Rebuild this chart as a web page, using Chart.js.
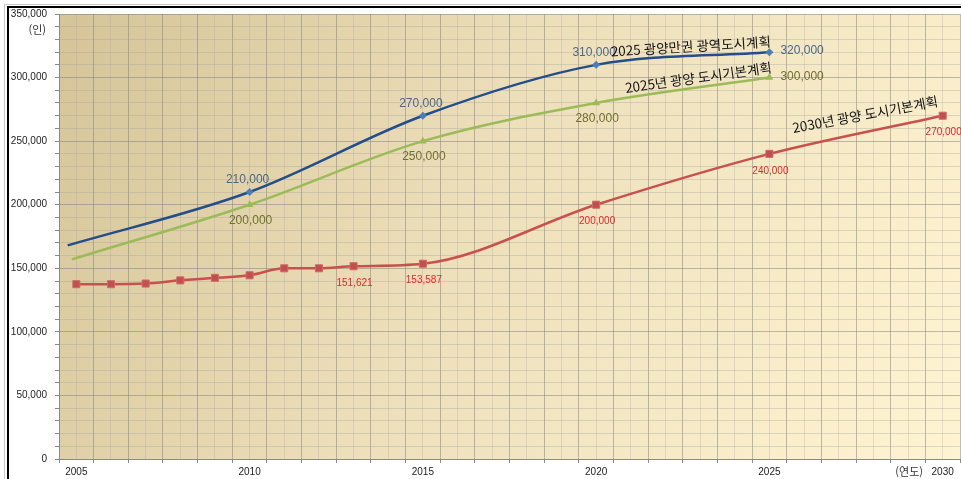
<!DOCTYPE html>
<html lang="ko">
<head>
<meta charset="utf-8">
<title>광양 인구 계획</title>
<script src="https://cdn.jsdelivr.net/npm/chart.js@4.4.1/dist/chart.umd.min.js"></script>
<style>
  html, body { margin: 0; padding: 0; background: #fff; }
  #wrap { width: 961px; height: 479px; }
</style>
</head>
<body>
<div id="wrap"><canvas id="popChart" width="961" height="479"></canvas></div>
<script>
// 축 눈금 라벨
const tickYears = [2005, 2010, 2015, 2020, 2025, 2030];

// 2025 광양만권 광역도시계획
const wideYears = [2004.75, 2010, 2015, 2020, 2025];
const wideValues = [168000, 210000, 270000, 310000, 320000];
const wideLabels = ['', '210,000', '270,000', '310,000', '320,000'];

// 2025년 광양 도시기본계획
const basic2025Years = [2004.87, 2010, 2015, 2020, 2025];
const basic2025Values = [157000, 200000, 250000, 280000, 300000];
const basic2025Labels = ['', '200,000', '250,000', '280,000', '300,000'];

// 2030년 광양 도시기본계획
const basic2030Years = [2005, 2006, 2007, 2008, 2009, 2010, 2011, 2012, 2013, 2015, 2020, 2025, 2030];
const basic2030Values = [137500, 137500, 138000, 140500, 142500, 144500, 150000, 150000, 151621, 153587, 200000, 240000, 270000];
const basic2030Labels = ['', '', '', '', '', '', '', '', '151,621', '153,587', '200,000', '240,000', '270,000'];

const seriesNames = ['2025 광양만권 광역도시계획', '2025년 광양 도시기본계획', '2030년 광양 도시기본계획'];

function toPoints(xs, ys) {
    return xs.map((x, i) => ({ x: x, y: ys[i] }));
}

// 배경, 테두리
const backgroundPlugin = {
    id: 'background',
    beforeDraw(chart) {
        const ctx = chart.ctx;
        const a = chart.chartArea;
        ctx.save();
        ctx.fillStyle = '#ffffff';
        ctx.fillRect(0, 0, chart.width, chart.height);
        ctx.fillStyle = '#c8c8c8';
        ctx.fillRect(4, 4, chart.width, 1);
        ctx.fillRect(4, 4, 1, chart.height);
        ctx.fillStyle = '#000000';
        ctx.fillRect(7, 6, chart.width, 2);
        ctx.fillRect(7, 6, 2, chart.height);
        const g = ctx.createLinearGradient(a.left, a.top, a.right, a.bottom);
        g.addColorStop(0, '#d5c498');
        g.addColorStop(0.45, '#eddfba');
        g.addColorStop(1, '#fff4d2');
        ctx.fillStyle = g;
        ctx.fillRect(a.left, a.top, a.right - a.left, a.bottom - a.top);
        ctx.restore();
    }
};

// 값 라벨, 계획 이름, 단위
const textPlugin = {
    id: 'texts',
    afterDatasetsDraw(chart) {
        const ctx = chart.ctx;
        ctx.save();
        chart.data.datasets.forEach((ds, i) => {
            const meta = chart.getDatasetMeta(i);
            const lab = ds.labelOpts;
            ctx.font = lab.font;
            ctx.fillStyle = lab.color;
            meta.data.forEach((pt, j) => {
                const text = ds.valueLabels[j];
                if (!text) return;
                if (lab.lastRight && j === meta.data.length - 1) {
                    ctx.textAlign = 'left';
                    ctx.textBaseline = 'middle';
                    ctx.fillText(text, pt.x + 11, pt.y - 1);
                } else {
                    ctx.textAlign = 'center';
                    ctx.textBaseline = 'middle';
                    ctx.fillText(text, pt.x + lab.dx, pt.y + lab.dy);
                }
            });
        });

        const xs = chart.scales.x;
        const ys = chart.scales.y;
        const names = [
            { text: seriesNames[0], x: 2022.74, y: 320500, angle: -3.5 },
            { text: seriesNames[1], x: 2022.97, y: 296000, angle: -8 },
            { text: seriesNames[2], x: 2027.79, y: 267000, angle: -10.5 }
        ];
        ctx.font = '13.5px "Noto Sans CJK KR", "Noto Sans", sans-serif';
        ctx.fillStyle = '#151515';
        ctx.textAlign = 'center';
        ctx.textBaseline = 'alphabetic';
        names.forEach(n => {
            ctx.save();
            ctx.translate(xs.getPixelForValue(n.x), ys.getPixelForValue(n.y));
            ctx.rotate(n.angle * Math.PI / 180);
            ctx.fillText(n.text, 0, 0);
            ctx.restore();
        });

        ctx.fillStyle = '#333333';
        ctx.font = '11px "Noto Sans CJK KR", sans-serif';
        ctx.textAlign = 'right';
        ctx.textBaseline = 'middle';
        ctx.fillText('(인)', 46, 30);
        ctx.fillText('(연도)', 923, 472);
        ctx.restore();
    }
};

function initChart() {
    const ctx = document.getElementById('popChart').getContext('2d');
    new Chart(ctx, {
        type: 'line',
        data: {
            datasets: [{
                label: seriesNames[0],
                data: toPoints(wideYears, wideValues),
                valueLabels: wideLabels,
                labelOpts: { font: '12px "Liberation Sans", Arial, sans-serif', color: '#4b6889', dx: -2, dy: -12, lastRight: true },
                borderColor: '#234e8a',
                backgroundColor: '#4a7ebb',
                borderWidth: 2.5,
                pointStyle: 'rectRot',
                pointRadius: c => c.dataIndex === 0 ? 0 : 4,
                pointBorderWidth: 0,
                cubicInterpolationMode: 'monotone'
            }, {
                label: seriesNames[1],
                data: toPoints(basic2025Years, basic2025Values),
                valueLabels: basic2025Labels,
                labelOpts: { font: '12px "Liberation Sans", Arial, sans-serif', color: '#6f7030', dx: 1, dy: 16, lastRight: true },
                borderColor: '#9bbb59',
                backgroundColor: '#9bbb59',
                borderWidth: 2.5,
                pointStyle: 'triangle',
                pointRadius: c => c.dataIndex === 0 ? 0 : 4.5,
                pointBorderWidth: 0,
                cubicInterpolationMode: 'monotone'
            }, {
                label: seriesNames[2],
                data: toPoints(basic2030Years, basic2030Values),
                valueLabels: basic2030Labels,
                labelOpts: { font: '10px "Liberation Sans", Arial, sans-serif', color: '#e0282c', dx: 1, dy: 17, lastRight: false },
                borderColor: '#c8504d',
                backgroundColor: '#c0504d',
                borderWidth: 2.5,
                pointStyle: 'rect',
                pointRadius: 5,
                pointBorderWidth: 1,
                pointBorderColor: '#d06a67',
                cubicInterpolationMode: 'monotone'
            }]
        },
        options: {
            responsive: false,
            animation: false,
            layout: { autoPadding: false, padding: { top: 14, right: 1, left: 0, bottom: 0 } },
            plugins: {
                legend: { display: false },
                tooltip: { enabled: false }
            },
            scales: {
                x: {
                    type: 'linear',
                    min: 2004.5,
                    max: 2030.5,
                    afterFit: s => { s.height = 20; s.paddingLeft = 0; s.paddingRight = 0; },
                    ticks: {
                        stepSize: 0.5,
                        autoSkip: false,
                        maxRotation: 0,
                        padding: 3,
                        color: '#222',
                        font: { family: '"Liberation Sans", Arial, sans-serif', size: 10 },
                        callback: v => tickYears.includes(v) ? String(v) : ''
                    },
                    grid: {
                        color: c => Number.isInteger(c.tick.value) ? 'rgba(160,160,160,0.28)' : 'rgba(125,125,125,0.5)',
                        tickColor: c => Number.isInteger(c.tick.value) ? 'rgba(0,0,0,0)' : '#8a8a8a',
                        tickLength: 4,
                        lineWidth: 1
                    },
                    border: { color: '#8a8a8a' }
                },
                y: {
                    min: 0,
                    max: 350000,
                    afterFit: s => { s.width = 59; },
                    ticks: {
                        stepSize: 10000,
                        autoSkip: false,
                        padding: 8,
                        color: '#222',
                        font: { family: '"Liberation Sans", Arial, sans-serif', size: 10 },
                        callback: v => v % 50000 === 0 ? v.toLocaleString('en-US') : ''
                    },
                    grid: {
                        color: c => c.tick.value % 50000 === 0 ? 'rgba(125,125,125,0.5)' : 'rgba(160,160,160,0.35)',
                        tickColor: '#8a8a8a',
                        tickLength: 4,
                        lineWidth: 1
                    },
                    border: { color: '#8a8a8a' }
                }
            }
        },
        plugins: [backgroundPlugin, textPlugin]
    });
}

document.addEventListener('DOMContentLoaded', initChart);
</script>
</body>
</html>
